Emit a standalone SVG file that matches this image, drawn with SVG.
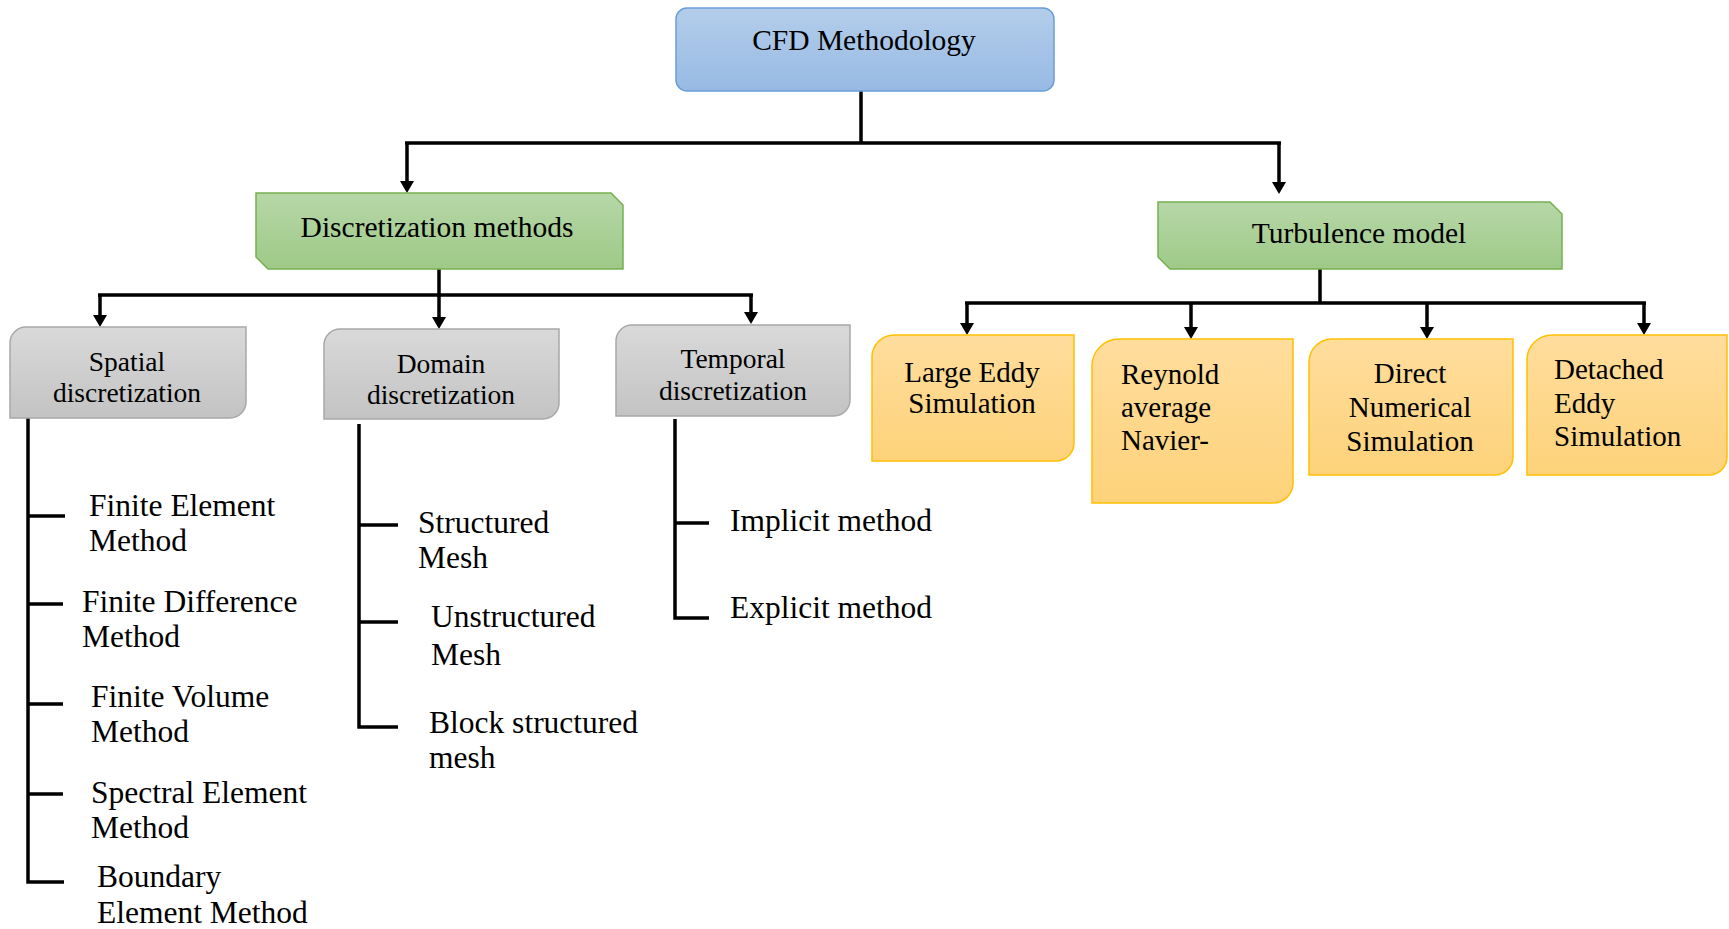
<svg xmlns="http://www.w3.org/2000/svg" width="1729" height="929" viewBox="0 0 1729 929">
<defs>
<linearGradient id="gBlue" x1="0" y1="0" x2="0" y2="1"><stop offset="0" stop-color="#b4cdea"/><stop offset="1" stop-color="#97bae4"/></linearGradient>
<linearGradient id="gGreen" x1="0" y1="0" x2="0" y2="1"><stop offset="0" stop-color="#b7d7a8"/><stop offset="1" stop-color="#9ec987"/></linearGradient>
<linearGradient id="gGray" x1="0" y1="0" x2="0" y2="1"><stop offset="0" stop-color="#d9d9d9"/><stop offset="1" stop-color="#c3c3c3"/></linearGradient>
<linearGradient id="gOrange" x1="0" y1="0" x2="0" y2="1"><stop offset="0" stop-color="#ffdd9d"/><stop offset="1" stop-color="#fdd27a"/></linearGradient>
<marker id="arr" markerUnits="userSpaceOnUse" viewBox="0 0 12 14" markerWidth="12" markerHeight="14" refX="2" refY="7" orient="auto">
<path d="M0,0 L12,7 L0,14 Z" fill="#000"/>
</marker>
<style>
.t{font-family:"Liberation Serif","Times New Roman",serif;fill:#000}
.h{font-size:29.5px;text-anchor:middle}
.g{font-size:27.5px;text-anchor:middle}
.o{font-size:29px}
.oc{text-anchor:middle}
.l{font-size:31.5px}
.blue{fill:url(#gBlue);stroke:#6a9fd8;stroke-width:1.5}
.green{fill:url(#gGreen);stroke:#76b04f;stroke-width:1.5}
.gray{fill:url(#gGray);stroke:#a8a8a8;stroke-width:1.5}
.orange{fill:url(#gOrange);stroke:#ffc000;stroke-width:1.5}
.c{fill:none;stroke:#000;stroke-width:3.5}
.a{fill:none;stroke:#000;stroke-width:3.5;marker-end:url(#arr)}
</style>
</defs>

<g id="connectors">
<path class="c" d="M861,90 V143 M405,143 H1281"/>
<path class="a" d="M407,143 V183"/>
<path class="a" d="M1279,143 V184"/>
<path class="c" d="M439,269 V295 M98,295 H753"/>
<path class="a" d="M100,295 V317"/>
<path class="a" d="M439,295 V319"/>
<path class="a" d="M751,295 V314"/>
<path class="c" d="M1320,269 V303 M965,303 H1646"/>
<path class="a" d="M967,303 V325"/>
<path class="a" d="M1191,303 V329"/>
<path class="a" d="M1427,303 V329"/>
<path class="a" d="M1644,303 V325"/>
<path class="c" d="M28,418 V882 H64 M28,516 H65 M28,604 H63 M28,704 H63 M28,794 H63"/>
<path class="c" d="M359,424 V727 H398 M359,525 H398 M359,622 H398"/>
<path class="c" d="M675,419 V618 H709 M675,523 H709"/>
</g>

<g id="cfd">
<rect class="blue" x="676" y="8" width="378" height="83" rx="11"/>
<text class="t h" x="864" y="50">CFD Methodology</text>
</g>

<g id="discretization">
<path class="green" d="M256,193 H611 L623,205 V269 H268 L256,257 Z"/>
<text class="t h" x="437" y="237">Discretization methods</text>
</g>

<g id="turbulence">
<path class="green" d="M1158,202 H1550 L1562,214 V269 H1170 L1158,257 Z"/>
<text class="t h" x="1359" y="243">Turbulence model</text>
</g>

<g id="spatial">
<path class="gray" d="M10,343 A16,16 0 0 1 26,327 H246 V402 A16,16 0 0 1 230,418 H10 Z"/>
<text class="t g" x="127" y="371">Spatial</text>
<text class="t g" x="127" y="402">discretization</text>
</g>

<g id="domain">
<path class="gray" d="M324,345 A16,16 0 0 1 340,329 H559 V403 A16,16 0 0 1 543,419 H324 Z"/>
<text class="t g" x="441" y="373">Domain</text>
<text class="t g" x="441" y="404">discretization</text>
</g>

<g id="temporal">
<path class="gray" d="M616,341 A16,16 0 0 1 632,325 H850 V400 A16,16 0 0 1 834,416 H616 Z"/>
<text class="t g" x="733" y="368">Temporal</text>
<text class="t g" x="733" y="400">discretization</text>
</g>

<g id="les">
<path class="orange" d="M872,357 A22,22 0 0 1 894,335 H1074 V443 A18,18 0 0 1 1056,461 H872 Z"/>
<text class="t o oc" x="972" y="382">Large Eddy</text>
<text class="t o oc" x="972" y="413">Simulation</text>
</g>

<g id="rans">
<path class="orange" d="M1092,366 A27,27 0 0 1 1119,339 H1293 V483 A20,20 0 0 1 1273,503 H1092 Z"/>
<text class="t o" x="1121" y="384">Reynold</text>
<text class="t o" x="1121" y="417">average</text>
<text class="t o" x="1121" y="450">Navier-</text>
</g>

<g id="dns">
<path class="orange" d="M1309,362 A23,23 0 0 1 1332,339 H1513 V457 A18,18 0 0 1 1495,475 H1309 Z"/>
<text class="t o oc" x="1410" y="383">Direct</text>
<text class="t o oc" x="1410" y="417">Numerical</text>
<text class="t o oc" x="1410" y="451">Simulation</text>
</g>

<g id="des">
<path class="orange" d="M1527,360 A25,25 0 0 1 1552,335 H1727 V457 A18,18 0 0 1 1709,475 H1527 Z"/>
<text class="t o" x="1554" y="379">Detached</text>
<text class="t o" x="1554" y="413">Eddy</text>
<text class="t o" x="1554" y="446">Simulation</text>
</g>

<g id="spatial-items">
<text class="t l" x="89" y="516">Finite Element</text>
<text class="t l" x="89" y="551">Method</text>
<text class="t l" x="82" y="612">Finite Difference</text>
<text class="t l" x="82" y="647">Method</text>
<text class="t l" x="91" y="707">Finite Volume</text>
<text class="t l" x="91" y="742">Method</text>
<text class="t l" x="91" y="803">Spectral Element</text>
<text class="t l" x="91" y="838">Method</text>
<text class="t l" x="97" y="887">Boundary</text>
<text class="t l" x="97" y="923">Element Method</text>
</g>

<g id="domain-items">
<text class="t l" x="418" y="533">Structured</text>
<text class="t l" x="418" y="568">Mesh</text>
<text class="t l" x="431" y="627">Unstructured</text>
<text class="t l" x="431" y="665">Mesh</text>
<text class="t l" x="429" y="733">Block structured</text>
<text class="t l" x="429" y="768">mesh</text>
</g>

<g id="temporal-items">
<text class="t l" x="730" y="531">Implicit method</text>
<text class="t l" x="730" y="618">Explicit method</text>
</g>
</svg>
